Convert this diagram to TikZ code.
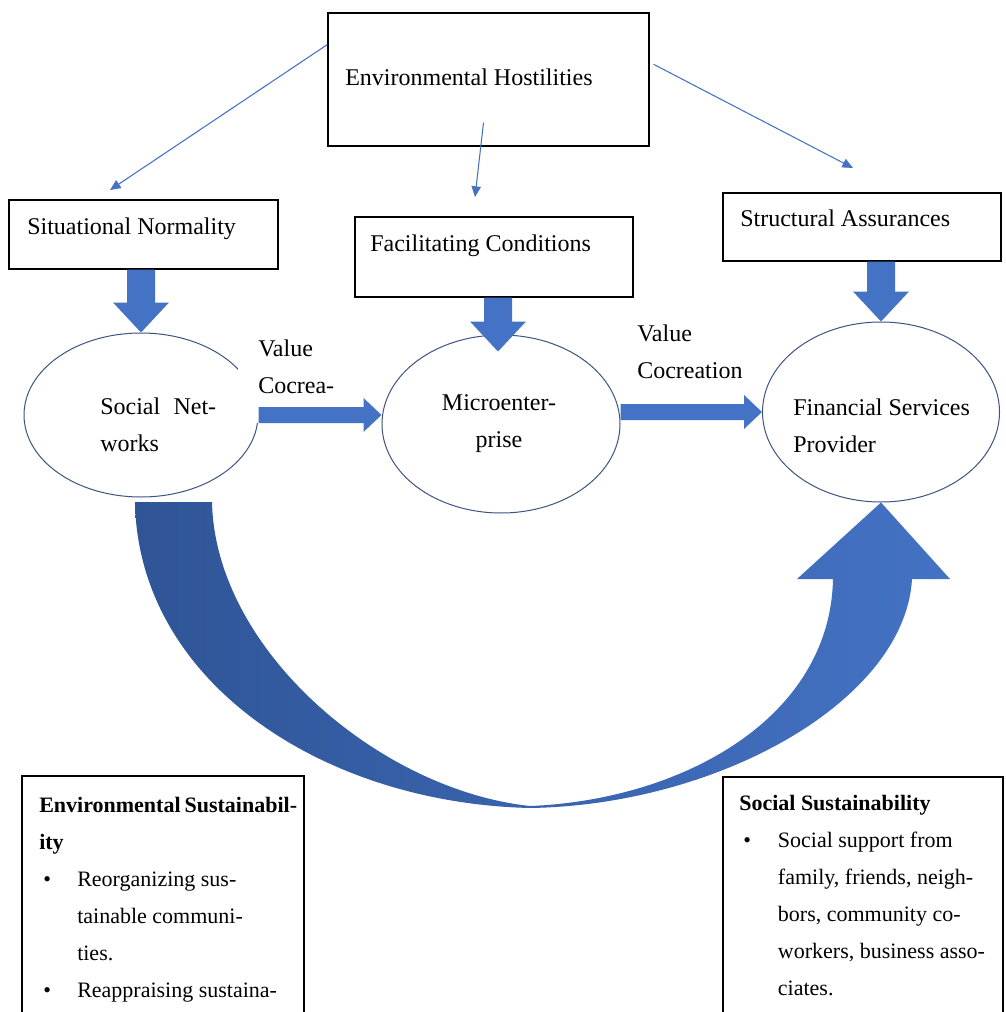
\documentclass[tikz,border=0pt]{standalone}
\usepackage{fontspec}
\setmainfont{Liberation Serif}
\usetikzlibrary{arrows.meta,calc,fit,shapes.geometric}
\definecolor{ablue}{RGB}{68,114,196}
\definecolor{adark}{RGB}{47,85,151}
\definecolor{eline}{RGB}{62,84,128}
% vertical block arrow: from (#1) down to tip (#2)
\newcommand\blockdown[2]{\fill[ablue] let \p1=(#1), \p2=(#2) in
  (\x2-10.5pt,\y1) -- (\x2+10.5pt,\y1) -- (\x2+10.5pt,\y2+22.5pt) -- (\x2+21pt,\y2+22.5pt)
  -- (\x2,\y2) -- (\x2-21pt,\y2+22.5pt) -- (\x2-10.5pt,\y2+22.5pt) -- cycle;}
% horizontal block arrow: from (#1) right to tip (#2), at the height of (#3)
\newcommand\blockright[3]{\fill[ablue] let \p1=(#1), \p2=(#2), \p3=(#3) in
  (\x1,\y3-6pt) -- (\x2-13.5pt,\y3-6pt) -- (\x2-13.5pt,\y3-12.75pt) -- (\x2,\y3)
  -- (\x2-13.5pt,\y3+12.75pt) -- (\x2-13.5pt,\y3+6pt) -- (\x1,\y3+6pt) -- cycle;}
\begin{document}
\begin{tikzpicture}[x=0.75pt,y=-0.75pt,
  every node/.style={font=\fontsize{18}{27.75}\selectfont},
  box/.style={draw=black, line width=1pt, inner sep=0pt},
  oval/.style={draw=eline, line width=0.75pt, ellipse, inner sep=0pt},
  txt/.style={inner sep=0pt, anchor=base west, align=left},
  small/.style={font=\fontsize{16.5}{27.75}\selectfont},
  thin/.style={draw=ablue, line width=0.8pt, -{Triangle[length=8pt,width=7pt]}}]
\useasboundingbox (0,0) rectangle (1005,1012);
\clip (0,0) rectangle (1005,1012);
\fill[white] (0,0) rectangle (1005,1012);

% boxes
\node[box, fit={(328,13) (649,146)}] (env) {};
\node[box, fit={(9,200) (278,269)}] (sn) {};
\node[box, fit={(355,217) (633,297)}] (fc) {};
\node[box, fit={(723,193) (1001,261)}] (sa) {};
\node[box, fit={(22,776) (304,1040)}] (envs) {};
\node[box, fit={(723,777) (1003,1040)}] (socs) {};

% ellipses
\node[oval, minimum width=175.5pt, minimum height=123pt] (soc) at (141,415) {};
\node[oval, minimum width=178.5pt, minimum height=133.5pt] (mic) at (501,424) {};
\node[oval, minimum width=177.75pt, minimum height=135pt] (fin) at (881,412) {};

% gap in the Social Networks ellipse (white text area)
\fill[white] (238,334) rectangle (336,423);

% texts (base anchor of a multi-line node = baseline of its last line)
\node[txt] (envt) at (345,86) {Environmental Hostilities};
\node[txt] (snt) at (27,235) {Situational Normality};
\node[txt] (fct) at (370,252) {Facilitating Conditions};
\node[txt] (sat) at (740,227) {Structural Assurances};
\node[txt] (soct) at (100,451) {Social\hspace{10pt}Net-\\works};
\node[txt, align=center, anchor=base] (mict) at (499,447) {Microenter-\\prise};
\node[txt] (fint) at (793,452) {Financial Services\\Provider};
\node[txt] (vc1) at (258,393) {Value\\Cocrea-};
\node[txt] (vc2) at (637,378) {Value\\Cocreation};

\node[txt, small] (envst) at (39,997) {\textbf{Environmental\hspace{3pt}Sustainabil-}\\
  \textbf{ity}\\
  \makebox[28.5pt][l]{\hspace{3pt}•}Reorganizing sus-\\
  \hspace*{28.5pt}tainable communi-\\
  \hspace*{28.5pt}ties.\\
  \makebox[28.5pt][l]{\hspace{3pt}•}Reappraising sustaina-};
\node[txt, small] (socst) at (739,995) {\textbf{Social Sustainability}\\
  \makebox[29pt][l]{\hspace{3pt}•}Social support from\\
  \hspace*{29pt}family, friends, neigh-\\
  \hspace*{29pt}bors, community co-\\
  \hspace*{29pt}workers, business asso-\\
  \hspace*{29pt}ciates.};

% thin arrows from Environmental Hostilities
\coordinate (t1) at (110,190);
\coordinate (t2) at (475,197);
\coordinate (t3) at (853,168);
\draw[thin] ($(env.north west)!0.24!(env.south west)$) -- (t1);
\draw[thin] ($(env.south)+(-5,-24)$) -- (t2);
\draw[thin] ($(env.north east)+(4,52)$) -- (t3);

% block arrows
\blockdown{sn.south}{soc.north}
\blockdown{fc.south}{$(mic.north)+(-3,17)$}
\blockdown{sa.south}{fin.north}
\blockright{soc.east}{mic.west}{soc.east}
\blockright{mic.east}{fin.west}{fin.west}

% big curved arrow from Social Networks to Financial Services Provider
\shade[left color=adark, right color=ablue]
  (135,502) .. controls (138,680) and (320,803) .. (530,808)
  .. controls (720,805) and (905,700) .. (912,579)
  -- (950,579) -- (fin.south) -- (797,579) -- (833,579)
  .. controls (830,720) and (680,800) .. (530,806)
  .. controls (380,790) and (215,650) .. (212,502) -- cycle;
\end{tikzpicture}
\end{document}
